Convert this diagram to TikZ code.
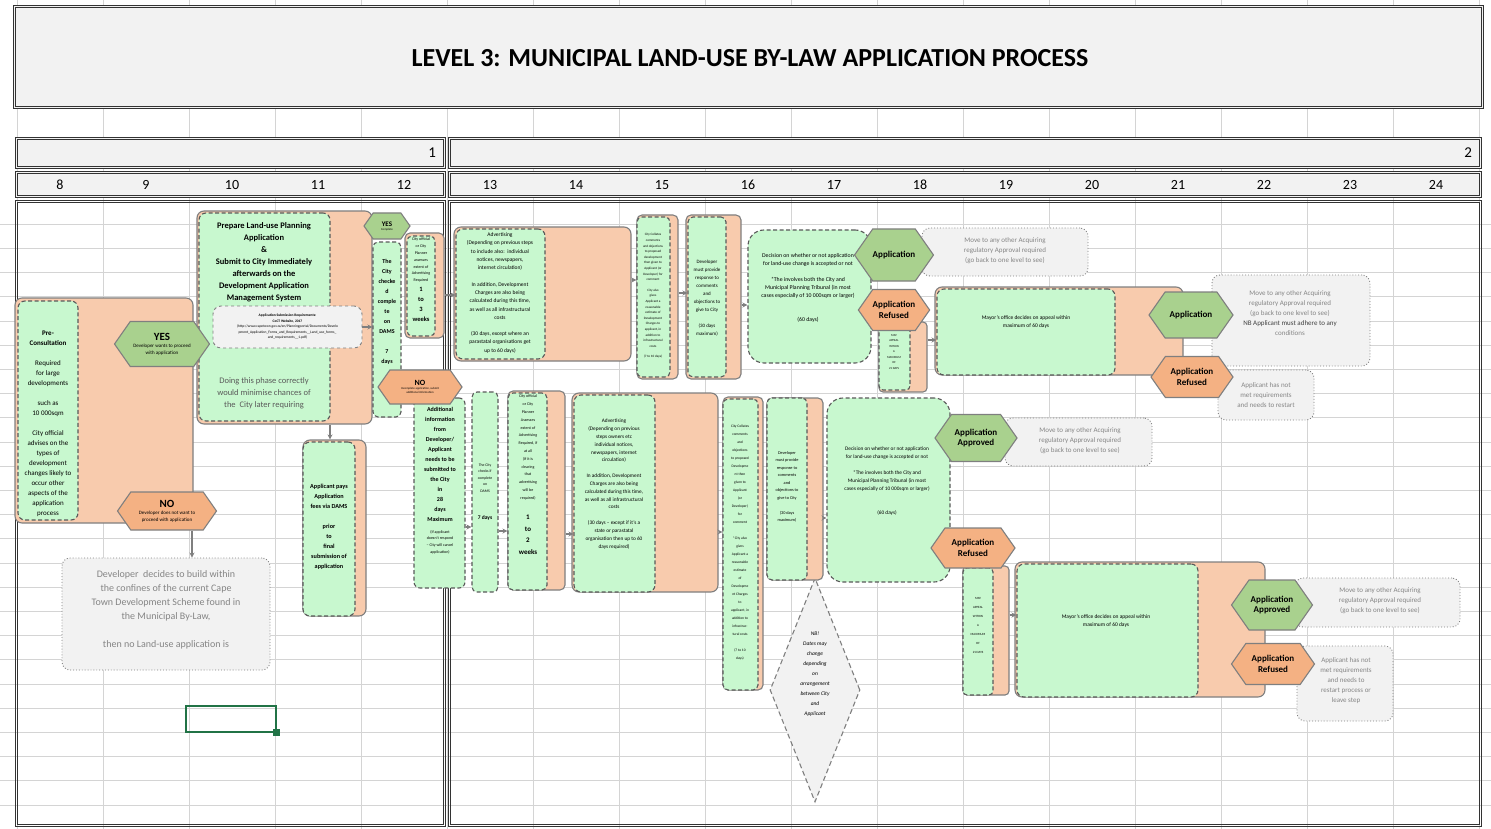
\documentclass[tikz,border=0pt]{standalone}
\usepackage{fontspec}
\setmainfont{Carlito}
\usetikzlibrary{fit, arrows.meta, shapes.symbols, shapes.geometric}

\definecolor{peach}{HTML}{F8CBAD}
\definecolor{mint}{HTML}{C8F8CF}
\definecolor{leaf}{HTML}{A9D18E}
\definecolor{apricot}{HTML}{F4B183}
\definecolor{paper}{HTML}{F2F2F2}
\definecolor{cellline}{HTML}{D4D4D4}
\definecolor{edgegray}{HTML}{7F7F7F}
\definecolor{inkgray}{HTML}{595959}
\definecolor{notegray}{HTML}{858585}
\definecolor{selgreen}{HTML}{217346}

\begin{document}
\begin{tikzpicture}[x=1pt, y=-1pt,
    sheetframe/.style={draw=black!80, line width=0.8pt, inner sep=0pt},
    backbox/.style={draw=edgegray, line width=1.1pt, fill=peach, rounded corners=7pt, inner sep=0pt},
    mintbox/.style={draw=inkgray, line width=1.1pt, dash pattern=on 4pt off 2.5pt, fill=mint, rounded corners=7pt, inner sep=0pt},
    notebox/.style={draw=edgegray, line width=0.9pt, dotted, fill=paper, rounded corners=8pt, inner sep=0pt},
    hexbase/.style={signal, signal to=west and east, signal pointer angle=110, draw=edgegray, line width=1.1pt, inner sep=0pt, align=center},
    hexyes/.style={hexbase, fill=leaf},
    hexno/.style={hexbase, fill=apricot},
    boxtext/.style={align=center, inner sep=0pt},
    notetext/.style={boxtext, text=notegray, font=\fontsize{7}{10}\selectfont},
    flow/.style={draw=edgegray, line width=1.1pt, -{Stealth[length=5pt, width=5pt]}}
]
\useasboundingbox (0,0) rectangle (1491,829);

% spreadsheet cell grid
\foreach \x in {17,103,...,1479}
  \draw[cellline, line width=0.8pt] (\x,0) -- (\x,829);
\foreach \y in {224.2,248.4,...,829}
  \draw[cellline, line width=0.8pt] (0,\y) -- (1491,\y);

% title and header rows
\node[sheetframe, fill=paper, fit={(13,5)(1483,108)}] (titlebox) {};
\node[font=\bfseries\fontsize{26}{28}\selectfont] (title) at (750,58) {LEVEL 3: MUNICIPAL LAND-USE BY-LAW APPLICATION PROCESS};
\node[sheetframe, fill=paper, fit={(15,137)(445,168)}] (stage1) {};
\node[sheetframe, fill=paper, fit={(448,137)(1481,168)}] (stage2) {};
\node[anchor=east, font=\fontsize{15}{16}\selectfont] (stage1num) at ([xshift=-6pt]stage1.east) {1};
\node[anchor=east, font=\fontsize{15}{16}\selectfont] (stage2num) at ([xshift=-6pt]stage2.east) {2};
\node[sheetframe, fill=paper, fit={(15,171)(445,197)}] (weeks1) {};
\node[sheetframe, fill=paper, fit={(448,171)(1481,197)}] (weeks2) {};
\foreach \n [count=\i from 0] in {8,...,24}
  \node[font=\fontsize{14}{15}\selectfont] (week\n) at (60+86*\i,185) {\n};
\node[sheetframe, fit={(15,200)(445,826)}] (lane1) {};
\node[sheetframe, fit={(448,200)(1481,826)}] (lane2) {};
\foreach \f in {titlebox,stage1,stage2,weeks1,weeks2,lane1,lane2}
  \draw[black!80, line width=0.8pt] ([shift={(2.4,2.4)}]\f.north west) rectangle ([shift={(-2.4,-2.4)}]\f.south east);

% pre-consultation
\node[backbox, fit={(15,298)(193,523)}] (preback) {};
\node[mintbox, fit={(18,301)(78,520)}] (pre) {};
\node[boxtext, font=\fontsize{7}{10}\selectfont] (pretext) at (48,424)
  {\textbf{Pre-}\\\textbf{Consultation}\\[10pt]Required\\for large\\developments\\[10pt]such as\\10 000sqm\\[10pt]City official\\advises on the\\types of\\development\\changes likely to\\occur other\\aspects of the\\application\\process};
\node[hexno, minimum width=99pt, minimum height=38pt, font=\fontsize{5}{6.5}\selectfont] (no1) at (167,511)
  {{\fontsize{11}{12}\selectfont\textbf{NO}}\\[1pt]Developer does not want to\\proceed with application};
\node[notebox, fit={(62,558)(270,670)}] (nobuild) {};
\node[notetext, font=\fontsize{10}{14}\selectfont] (nobuildtext) at (166,610)
  {Developer\ \ decides to build within\\the confines of the current Cape\\Town Development Scheme found in\\the Municipal By-Law,\\[14pt]then no Land-use application is};
\draw[flow] (192,0 |- no1.south) -- (192,0 |- nobuild.north);

% prepare and submit application
\node[backbox, fit={(197,211)(372,424)}] (prepback) {};
\node[mintbox, fit={(199,213)(330,421)}] (prep) {};
\node[boxtext, anchor=north, font=\bfseries\fontsize{8.5}{12}\selectfont] (preptext) at (264,222)
  {Prepare Land-use Planning\\Application\\\&\\Submit to City Immediately\\afterwards on the\\Development Application\\Management System};
\node[notebox, dashed, fit={(213,306)(362,348)}] (req) {};
\node[boxtext, font=\fontsize{3.6}{5.5}\selectfont] (reqtext) at (req)
  {\textbf{Application Submission Requirements:}\\\textbf{CoCT Website, 2017}\\(http://www.capetown.gov.za/en/Planningportal/Documents/Develo\\pment\_Application\_Forms\_and\_Requirements\_\_Land\_use\_forms\_\\and\_requirements\_\_1.pdf)};
\node[boxtext, text=inkgray, font=\fontsize{8.5}{12}\selectfont] (preptip) at (264,393)
  {Doing this phase correctly\\would minimise chances of\\the\ \ City later requiring};
\node[hexyes, minimum width=95pt, minimum height=45pt, font=\fontsize{5}{6.5}\selectfont] (yes1) at (162,344)
  {{\fontsize{11}{12}\selectfont\textbf{YES}}\\[1pt]Developer wants to proceed\\with application};

% applicant pays
\node[backbox, fit={(303,440)(366,616)}] (payback) {};
\node[mintbox, fit={(303,442)(355,616)}] (pay) {};
\node[boxtext, font=\bfseries\fontsize{6.2}{10}\selectfont] (paytext) at (329,527)
  {Applicant pays\\Application\\fees via DAMS\\[10pt]prior\\to\\final\\submission of\\application};
\draw[flow] (330,0 |- prepback.south) -- (330,0 |- payback.north);

% completeness check
\node[hexyes, minimum width=46pt, minimum height=26pt, font=\fontsize{3}{4}\selectfont] (yes2) at (387,226)
  {{\fontsize{7}{8}\selectfont\textbf{YES}}\\Complete};
\node[mintbox, rounded corners=5pt, fit={(373,242)(401,417)}] (check) {};
\node[boxtext, font=\bfseries\fontsize{6}{10}\selectfont] (checktext) at (387,312)
  {The\\City\\checke\\d\\comple\\te\\on\\DAMS\\[10pt]7\\days};
\draw[flow] (req.east) -- (req.east -| check.west);
\node[backbox, rounded corners=5pt, fit={(405,233)(444,338)}] (assess1back) {};
\node[mintbox, rounded corners=5pt, fit={(407,236)(435,336)}] (assess1) {};
\node[boxtext, anchor=north, font=\fontsize{4}{6.8}\selectfont] (assess1text) at (421,238)
  {City official\\or City\\Planner\\assesses\\extent of\\Advertising\\Required};
\node[boxtext, anchor=north, font=\bfseries\fontsize{6.5}{10}\selectfont] (assess1time) at (421,287)
  {1\\to\\3\\weeks};
\node[mintbox, rounded corners=6pt, fit={(414,398)(465,588)}] (addinfo) {};
\node[boxtext, anchor=north, font=\bfseries\fontsize{6}{10}\selectfont] (addinfotext) at (440,407)
  {Additional\\information\\from\\Developer/\\Applicant\\needs to be\\submitted to\\the City\\in\\28\\days\\Maximum};
\node[boxtext, anchor=north, font=\fontsize{4}{6.8}\selectfont] (addinfonote) at (440,530)
  {(If applicant\\doesn't respond\\-- City will cancel\\application)};
\node[hexno, minimum width=84pt, minimum height=34pt, font=\fontsize{3}{4}\selectfont] (no2) at (420,387)
  {{\fontsize{8}{9}\selectfont\textbf{NO}}\\Incomplete application, submit\\additional information};

% advertising, first round
\node[backbox, fit={(454,227)(631,361)}] (advert1back) {};
\node[mintbox, fit={(456,229)(545,359)}] (advert1) {};
\node[boxtext, font=\fontsize{5.5}{8.3}\selectfont] (advert1text) at (500,293)
  {Advertising\\(Depending on previous steps\\to include also:\ \ individual\\notices, newspapers,\\internet circulation)\\[8pt]In addition, Development\\Charges are also being\\calculated during this time,\\as well as all infrastructural\\costs\\[8pt](30 days, except where an\\parastatal organisations get\\up to 60 days)};
\draw[flow] (assess1back.east |- 0,295) -- (advert1.west |- 0,295);
\node[backbox, rounded corners=5pt, fit={(637,215)(678,379)}] (collate1back) {};
\node[mintbox, rounded corners=5pt, fit={(637,217)(670,377)}] (collate1) {};
\node[boxtext, font=\fontsize{3.3}{5.6}\selectfont] (collate1text) at (653,296)
  {City Collates\\comments\\and objections\\to proposed\\development\\then given to\\Applicant (or\\Developer) for\\comment\\[5pt]City also\\gives\\Applicant a\\reasonable\\estimate of\\Development\\Charges to\\applicant, in\\addition to\\infrastructural\\costs\\[5pt](7 to 10 days)};
\draw[flow] (advert1back.east |- 0,280) -- (collate1.west |- 0,280);
\node[backbox, rounded corners=5pt, fit={(686,215)(741,379)}] (respond1back) {};
\node[mintbox, rounded corners=5pt, fit={(688,217)(726,377)}] (respond1) {};
\node[boxtext, font=\fontsize{5}{8}\selectfont] (respond1text) at (707,298)
  {Developer\\must provide\\response to\\comments\\and\\objections to\\give to City\\[8pt](30 days\\maximum)};
\draw[flow] (collate1back.east |- 0,293) -- (respond1.west |- 0,293);
\node[mintbox, rounded corners=16pt, fit={(748,230)(871,363)}] (decide1) {};
\node[boxtext, font=\fontsize{5.8}{8}\selectfont] (decide1text) at (808,288)
  {Decision on whether or not application\\for land-use change is accepted or not\\[8pt]*The involves both the City and\\Municipal Planning Tribunal (in most\\cases especially of 10 000sqm or larger)\\[16pt](60 days)};
\draw[flow] (respond1back.east |- 0,305) -- (decide1.west |- 0,305);

% outcome and appeal, first round
\node[notebox, fit={(922,228)(1088,276)}] (next1) {};
\node[notetext] (next1text) at (1005,251) {Move to any other Acquiring\\regulatory Approval required\\(go back to one level to see)};
\node[backbox, rounded corners=4pt, fit={(879,322)(927,392)}] (appeal1back) {};
\node[mintbox, rounded corners=4pt, fit={(879,325)(910,390)}] (appeal1) {};
\node[boxtext, font=\fontsize{3}{5.5}\selectfont] (appeal1text) at (894,352) {MAY\\APPEAL\\WITHIN\\A\\MAXIMUM\\OF\\21 DAYS};
\node[hexyes, minimum width=72pt, minimum height=52pt] (approve1) at (894,255) {\fontsize{9}{10}\selectfont\textbf{Application}};
\node[hexno, minimum width=70pt, minimum height=41pt, font=\bfseries\fontsize{9}{10.5}\selectfont] (refuse1) at (894,310) {Application\\Refused};
\node[backbox, fit={(935,287)(1183,375)}] (mayor1back) {};
\node[mintbox, fit={(937,289)(1115,375)}] (mayor1) {};
\node[boxtext, font=\fontsize{5.5}{8}\selectfont] (mayor1text) at (1026,322) {Mayor's office decides on appeal within\\maximum of 60 days};
\draw[flow] (appeal1back.east |- 0,340) -- (mayor1.west |- 0,340);
\node[notebox, fit={(1212,275)(1370,366)}] (next2) {};
\node[notetext] (next2text) at (1290,313) {Move to any other Acquiring\\regulatory Approval required\\(go back to one level to see)\\\textcolor{black!75}{NB Applicant must adhere to any}\\conditions};
\node[notebox, fit={(1218,370)(1314,420)}] (restart1) {};
\node[notetext] (restart1text) at (1266,395) {Applicant has not\\met requirements\\and needs to restart};
\node[hexyes, minimum width=84pt, minimum height=46pt] (approve2) at (1191,315) {\fontsize{9}{10}\selectfont\textbf{Application}};
\node[hexno, minimum width=82pt, minimum height=41pt, font=\bfseries\fontsize{9}{10.5}\selectfont] (refuse2) at (1192,377) {Application\\Refused};

% resubmission route
\node[mintbox, rounded corners=5pt, fit={(472,392)(498,592)}] (check2) {};
\node[boxtext, font=\fontsize{3.8}{6.5}\selectfont] (check2text) at (485,478)
  {The City\\checks if\\complete\\on\\DAMS};
\node[boxtext, font=\bfseries\fontsize{5.5}{7}\selectfont] (check2time) at (485,518) {7 days};
\draw[flow] (addinfo.east |- 0,527) -- (check2.west |- 0,527);
\node[backbox, rounded corners=5pt, fit={(508,391)(565,590)}] (assess2back) {};
\node[mintbox, rounded corners=5pt, fit={(508,393)(547,590)}] (assess2) {};
\node[boxtext, anchor=north, font=\fontsize{4}{7.8}\selectfont] (assess2text) at (528,395)
  {City official\\or City\\Planner\\Assesses\\extent of\\Advertising\\Required, if\\at all\\(If it is\\clearing\\that\\advertising\\will be\\required)};
\node[boxtext, anchor=north, font=\bfseries\fontsize{7}{11.5}\selectfont] (assess2time) at (528,515)
  {1\\to\\2\\weeks};
\draw[flow] (check2.east |- 0,531) -- (assess2.west |- 0,531);
\node[backbox, fit={(572,393)(718,592)}] (advert2back) {};
\node[mintbox, fit={(574,395)(655,592)}] (advert2) {};
\node[boxtext, font=\fontsize{5.3}{7.8}\selectfont] (advert2text) at (614,484)
  {Advertising\\(Depending on previous\\steps owners etc\\individual notices,\\newspapers, internet\\circulation)\\[8pt]In addition, Development\\Charges are also being\\calculated during this time,\\as well as all infrastructural\\costs\\[8pt](30 days -- except if it's a\\state or parastatal\\organisation then up to 60\\days required)};
\draw[flow] (assess2back.east |- 0,534) -- (advert2.west |- 0,534);
\node[backbox, rounded corners=5pt, fit={(723,397)(763,690)}] (collate2back) {};
\node[mintbox, rounded corners=5pt, fit={(723,399)(758,690)}] (collate2) {};
\node[boxtext, font=\fontsize{3.6}{8}\selectfont] (collate2text) at (740,543)
  {City Collates\\comments\\and\\objections\\to proposed\\Developme\\nt then\\given to\\Applicant\\(or\\Developer)\\for\\comment\\[8pt]*City also\\gives\\Applicant a\\reasonable\\estimate\\of\\Developme\\nt Charges\\to\\applicant, in\\addition to\\infrastruc-\\tural costs\\[8pt](7 to 10\\days)};
\draw[flow] (advert2back.east |- 0,532) -- (collate2.west |- 0,532);
\node[diamond, draw=edgegray, line width=1.1pt, dash pattern=on 5pt off 3pt, fill=paper, minimum width=90pt, minimum height=224pt, inner sep=0pt] (datesnote) at (815,690) {};
\node[boxtext, font=\itshape\fontsize{5.5}{10}\selectfont] (datestext) at (815,674)
  {NB!\\Dates may\\change\\depending\\on\\arrangement\\between City\\and\\Applicant};
\node[backbox, rounded corners=5pt, fit={(767,398)(823,580)}] (respond2back) {};
\node[mintbox, rounded corners=5pt, fit={(767,398)(807,580)}] (respond2) {};
\node[boxtext, font=\fontsize{4.3}{7.5}\selectfont] (respond2text) at (787,487)
  {Developer\\must provide\\response to\\comments\\and\\objections to\\give to City\\[7.5pt](30 days\\maximum)};
\node[mintbox, rounded corners=16pt, fit={(827,398)(950,582)}] (decide2) {};
\node[boxtext, font=\fontsize{5.3}{8}\selectfont] (decide2text) at (887,481)
  {Decision on whether or not application\\for land-use change is accepted or not\\[8pt]*The involves both the City and\\Municipal Planning Tribunal (in most\\cases especially of 10 000sqm or larger)\\[16pt](60 days)};
\draw[flow] (respond2back.east |- 0,518) -- (decide2.west |- 0,518);

% outcome and appeal, second round
\node[notebox, fit={(1005,418)(1152,466)}] (next3) {};
\node[notetext] (next3text) at (1080,441) {Move to any other Acquiring\\regulatory Approval required\\(go back to one level to see)};
\node[backbox, rounded corners=4pt, fit={(963,566)(1009,695)}] (appeal2back) {};
\node[mintbox, rounded corners=4pt, fit={(963,568)(993,695)}] (appeal2) {};
\node[boxtext, font=\fontsize{3.2}{9}\selectfont] (appeal2text) at (978,625) {MAY\\APPEAL\\WITHIN\\A\\MAXIMUM\\OF\\21 DAYS};
\node[hexyes, minimum width=82pt, minimum height=47pt, font=\bfseries\fontsize{9}{10.5}\selectfont] (approve3) at (976,438) {Application\\Approved};
\node[hexno, minimum width=84pt, minimum height=40pt, font=\bfseries\fontsize{9}{10.5}\selectfont] (refuse3) at (973,548) {Application\\Refused};
\node[backbox, fit={(1015,562)(1265,697)}] (mayor2back) {};
\node[mintbox, fit={(1017,564)(1198,697)}] (mayor2) {};
\node[boxtext, font=\fontsize{5.5}{8}\selectfont] (mayor2text) at (1106,621) {Mayor's office decides on appeal within\\maximum of 60 days};
\draw[flow] (appeal2back.east |- 0,615) -- (mayor2.west |- 0,615);
\node[notebox, fit={(1295,578)(1460,627)}] (next4) {};
\node[notetext] (next4text) at (1380,601) {Move to any other Acquiring\\regulatory Approval required\\(go back to one level to see)};
\node[notebox, fit={(1297,646)(1393,721)}] (restart2) {};
\node[notetext] (restart2text) at (1346,681) {Applicant has not\\met requirements\\and needs to\\restart process or\\leave step};
\node[hexyes, minimum width=81pt, minimum height=50pt, font=\bfseries\fontsize{9}{10.5}\selectfont] (approve4) at (1272,605) {Application\\Approved};
\node[hexno, minimum width=83pt, minimum height=41pt, font=\bfseries\fontsize{9}{10.5}\selectfont] (refuse4) at (1273,664) {Application\\Refused};

% selected cell
\draw[selgreen, line width=2pt] (186,706) rectangle (276,732);
\fill[selgreen] (272.5,728.5) rectangle (279.5,735.5);
\end{tikzpicture}
\end{document}
